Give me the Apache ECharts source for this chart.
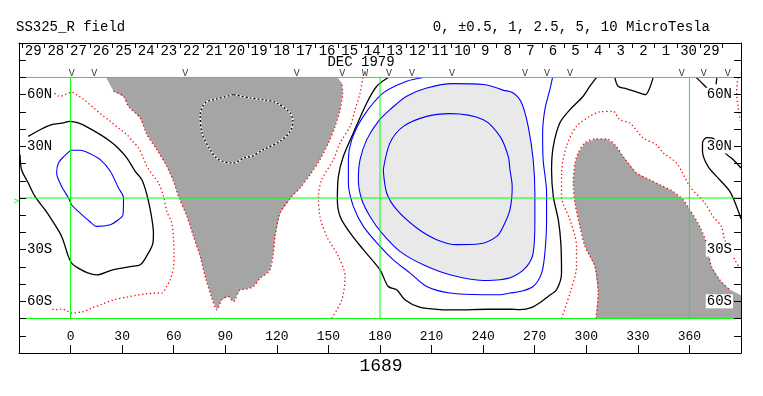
<!DOCTYPE html>
<html><head><meta charset="utf-8">
<script src="https://cdn.jsdelivr.net/npm/echarts@6/dist/echarts.min.js"></script>
<style>html,body{margin:0;padding:0;background:#fff}#c{width:763px;height:396px}</style>
</head><body><div id="c"></div>
<script>
// ---- tick labels / annotations ----
const dayLabels = ['29','28','27','26','25','24','23','22','21','20','19','18','17','16','15','14','13','12','11','10','9','8','7','6','5','4','3','2','1','30','29'];
const dayTickLons = [-28.3,-15.1,-2.0,11.2,24.3,37.4,50.6,63.7,76.9,90.0,103.2,116.3,129.5,142.6,155.8,168.9,182.0,195.2,208.3,221.5,234.6,247.8,260.9,274.1,287.2,300.3,313.5,326.6,339.8,352.9,366.1,379.2];
const lonTicks = [0,30,60,90,120,150,180,210,240,270,300,330,360];
const latLabels = {60:'60N',30:'30N','-30':'30S','-60':'60S'};
const passLons = [0.7,13.8,66.7,131.5,158,171.3,185.2,198.6,221.9,264.3,277.1,290.5,355.6,368.4,382.3];
const passMarks = ['V','V','V','V','V','W','V','V','V','V','V','V','V','V','V'];
const passLat = 72.6;
const gridLats = [70,0,-70];
const gridLons = [0,180,360];
const mapLatRange = [-70,70];
const lonRange = [-30,390];

// ---- contour lines (lon, lat) ----
const blueLeft = [[0,27.7],[-4,24],[-7.1,20.3],[-8.1,14.5],[-5.2,6.7],[-1.2,0],[0.6,-3.9],[4.5,-7.8],[8,-11],[11,-13.5],[15.3,-16.5],[23.1,-15.5],[28,-12.5],[30.5,-9.7],[30.8,0],[27.9,5.8],[23.1,15.5],[17.3,22.3],[10.5,26.2],[5.6,27.7],[0,27.7]];
const blackLeft = [[-24.6,35.8],[-18,39.5],[-11,42.6],[-5,43.5],[-0.3,44.5],[4.5,43.6],[10,41],[17.3,36.8],[23,33],[27,29.6],[32.8,23.2],[37.6,15.5],[41.5,10.6],[44.4,1.9],[46.7,-8.7],[48.2,-20.3],[47.9,-26.2],[44.4,-33.5],[40.5,-38.8],[34.7,-39.8],[28,-41],[23.1,-42.1],[15.3,-44.6],[10,-43.5],[4.5,-40.7],[0.6,-37.8],[-1.3,-33.9],[-5.2,-22.3],[-11,-12.6],[-14.9,-6.8],[-20.7,0.9],[-24.6,8.7],[-28.5,16.4],[-29.4,25.2]];
const redLeft = [[-16,62],[-10,61],[-6.2,59],[-3.3,60],[0.6,61.4],[3.5,60],[8,57],[13.4,52.3],[18,48.5],[23.1,44.5],[28,40.5],[32.8,36.8],[36,33],[39.5,29.1],[42,24],[44.4,18.4],[48,13],[51.2,8.7],[54.1,0.9],[56,-7.8],[58.9,-14.5],[59.9,-24.2],[60.2,-32],[59.9,-39.8],[58,-47.5],[56,-51],[53.1,-55.2],[49,-55.3],[44.4,-55.6],[38,-56.5],[32.8,-57.5],[25,-59.1],[17.3,-62],[12,-64],[7.6,-65.9],[0.6,-66.8],[-1.3,-65.9],[-5.2,-64.5],[-9.1,-64.9],[-12,-64]];
const greyLeft = [[20.7,70],[25,62],[30.8,59],[33.7,53.2],[40.5,46.5],[44.4,36.8],[50.2,28.1],[56,18.4],[59.9,9.6],[62.8,0.9],[67.7,-10.7],[71.5,-22.3],[75.4,-33.9],[78.3,-45.6],[82.2,-58.1],[85.1,-64.9],[88,-59.1],[91.8,-57.2],[94.7,-60.1],[98.6,-53.3],[102.5,-52.9],[106.4,-51.4],[110.3,-46.5],[113.2,-44.6],[116.1,-41.7],[118,-32],[119,-22.3],[121.9,-8.7],[128.7,0.9],[133.5,5.8],[139.3,13.5],[145.1,22.3],[150,32],[153.9,41.6],[156.8,51.3],[158.3,61],[157.8,66.8],[155.2,70]];
const dottedLoop = [[94.7,60],[85.1,57.5],[78.3,55.2],[75.4,48.4],[76.4,37.8],[81.2,28.1],[86,22.3],[94.7,20.3],[100.6,23.2],[106,24.5],[112.2,28.1],[121.9,32.9],[127.7,38.7],[129.3,44.5],[127.7,49.4],[120,55.2],[112.2,57.1],[104.5,58.1],[94.7,60]];
const redMid = [[170,70],[168.4,61],[165.5,51.3],[162.6,41.6],[156.8,32],[152.9,22.3],[146.1,10.6],[144.2,0.9],[145.1,-10.7],[149,-22.3],[155.8,-33.9],[159.7,-45.6],[157.8,-59.1],[151.9,-70]];
const blackMid = [[184.8,70],[178.1,64.9],[172.3,55.2],[164.5,37.8],[158.7,24.2],[155.8,12.6],[155.2,-1],[156.8,-10.7],[162.6,-20.3],[170.3,-30],[180,-41.7],[184.8,-51.4],[189.7,-53.3],[194.5,-59.1],[203,-63.4],[214.9,-64.8],[224.5,-65],[242.8,-64.6],[255.6,-64.6],[261.4,-64.8],[268.4,-63.5],[274.2,-60],[278,-57],[282.7,-53.3],[285.6,-43.6],[285.2,-26.2],[283.7,-12.6],[280.8,0.9],[279.8,16.4],[280.8,30],[284.6,43.6],[290.5,51.3],[298.2,59.1],[302.1,64.9],[306,70]];
const blueOuter = [[205.2,70],[195.5,67.8],[181.9,61],[170.3,47.4],[163.6,33.9],[161.6,22.3],[161.6,8.7],[164.5,-4.9],[170.3,-16.5],[180,-28.1],[187.7,-35.9],[197.5,-43.6],[207.2,-51.4],[220.7,-55.2],[240.1,-56.2],[249.8,-56.2],[255.6,-55.2],[261.4,-54.3],[269.1,-51.4],[274,-43.6],[275.9,-32],[276.9,-12.6],[276.9,2.9],[274.9,22.3],[274.6,37.8],[275.9,51.3],[278.8,62.9],[280.4,70]];
const blueMid = [[252,62.5],[240.1,65.9],[222.6,66.4],[207.2,63.9],[195.5,59.1],[185.8,51.3],[179,44.5],[172.3,33.9],[168.4,22.3],[167.4,10.6],[169.4,-1],[174.2,-10.7],[181,-20.3],[191.6,-31],[205.2,-38.8],[220.7,-44.6],[240.1,-47.9],[249.8,-47.5],[257.5,-45.6],[265.3,-39.8],[269.1,-32],[270.1,-12.6],[270.1,2.9],[269.1,22.3],[266.2,41.6],[262.4,55.2],[257.5,61],[252,62.5]];
const blueInner = [[181.9,16.4],[185.8,32],[193.6,41.6],[207.2,47.4],[220.7,49],[240.1,45.5],[249.8,35.8],[254.6,24.2],[255.6,16.4],[256.9,6.7],[255.6,-6.8],[251.7,-16.5],[247.9,-22.3],[238.1,-26.6],[224.6,-27.1],[213,-24.2],[201.4,-17.4],[189.7,-6.8],[183.9,2.9],[181.9,16.4]];
const redRight = [[285.6,-70],[290.5,-55.2],[294.3,-39.8],[294.3,-28],[290.5,-12.6],[285.6,0.9],[285.6,14.5],[288.5,30],[294.3,41.6],[302.1,47.4],[307.9,50],[315.6,50.3],[319.5,45.5],[325.3,43.6],[333.1,34.9],[340.8,31],[344.7,26.2],[352.5,20.3],[360.2,6.8],[368.9,-2.9],[373.7,-10.7],[378.6,-16.5],[380.5,-24.2],[386.4,-35.9],[389.3,-40.7]];
const greyRight = [[305.6,-70],[306.9,-55.2],[305,-39.8],[299.2,-28.1],[296.3,-16.5],[293.4,-2.9],[292.4,8.7],[293.4,20.3],[295.3,26.2],[299.2,32],[305,34.3],[311.8,34.3],[316.6,31],[321.4,24.2],[329.2,14.5],[336.9,10.6],[342.8,7.7],[350.5,3.8],[356.3,-1],[360.2,-6.8],[366,-16.5],[369.9,-26.2],[372.8,-39.8],[377.6,-47.5],[383.5,-53.3],[390,-56.5],[390,-70]];
const blackTopBump = [[316.6,70],[318.5,64.9],[323.4,63.4],[329.2,61.6],[334.4,60],[336.9,63.9],[338.9,70]];
const blackTopRight = [[364,70],[366,68],[368,66],[371,63]];
const blackTopTiny = [[376,70],[375.5,66]];
const blackRight = [[390,17.4],[385.4,22.3],[381.5,25.5],[378,30],[374,34.5],[370,35],[367.6,32],[367.6,27.1],[370.8,18.4],[377.6,10.6],[383.5,3.8],[387.4,-4.9],[390,-12]];
const redFarRight = [[388.3,70],[387.4,61],[388.3,53],[389.5,45]];

// ---- build chart ----
const MONO = 'Liberation Mono';
const dayLabelLons = dayLabels.map((_, i) => (dayTickLons[i] + dayTickLons[i + 1]) / 2);

const chart = echarts.init(document.getElementById('c'), null, {renderer: 'canvas'});

function poly(points, fill, z) {
  return {type: 'custom', coordinateSystem: 'cartesian2d', silent: true, z: z, data: [[0, 0]],
    renderItem: (params, api) => ({type: 'polygon', shape: {points: points.map(p => api.coord(p))}, style: {fill: fill}})};
}
function line(points, style, z, smooth) {
  return {type: 'line', data: points, showSymbol: false, symbol: 'none', silent: true, z: z || 3,
    smooth: smooth === undefined ? 0.3 : smooth, lineStyle: style, animation: false};
}
const BLACK = {color: '#000', width: 1.3};
const BLUE = {color: '#0000ff', width: 1.1};
const RED = {color: '#ff0000', width: 1.3, type: [1.3, 2.6]};

const greenLines = [];
gridLats.forEach(la => greenLines.push(line([[lonRange[0], la], [lonRange[1], la]], {color: '#00ff00', width: 1}, 4, false)));
gridLons.forEach(lo => greenLines.push(line([[lo, mapLatRange[1]], [lo, mapLatRange[0]]], {color: '#00ff00', width: 1}, 4, false)));

const series = [
  poly(greyLeft, '#a5a5a5', 1),
  poly(greyRight, '#a5a5a5', 1),
  poly(blueMid, '#e9e9e9', 1),
  line(greyLeft.slice(1, -1), RED),
  line(greyRight.slice(0, -2), RED),
  line(dottedLoop, {color: '#fff', width: 1.5}),
  line(dottedLoop, {color: '#000', width: 1.3, type: [2, 2]}),
  line(blueLeft, BLUE),
  line(blackLeft, BLACK),
  line(redLeft, RED),
  line(redMid, RED),
  line(blackMid, BLACK),
  line(blueOuter, BLUE),
  line(blueMid, BLUE),
  line(blueInner, BLUE),
  line(redRight, RED),
  line(blackTopBump, BLACK),
  line(blackTopRight, BLACK),
  line(blackTopTiny, BLACK),
  line(blackRight, BLACK),
  line(redFarRight, RED),
  ...greenLines,
  {type: 'scatter', data: passLons.map(l => [l, passLat]), symbolSize: 0, silent: true, z: 5,
    label: {show: true, position: 'inside', formatter: p => passMarks[p.dataIndex], fontFamily: MONO, fontSize: 10, color: '#000'}}
];

const yAxisBase = (pos) => ({
  type: 'value', position: pos, min: -90, max: 90, interval: 10, z: 10,
  axisLine: {show: true, onZero: false, lineStyle: {color: '#000', width: 1}},
  axisTick: {show: true, inside: true, length: 7, lineStyle: {color: '#000'}},
  splitLine: {show: false},
  axisLabel: {show: true, inside: true, margin: pos === 'left' ? 7 : 8,
    formatter: v => latLabels[String(v)] || '', fontFamily: MONO, fontSize: 14, color: '#000',
    backgroundColor: '#fff', padding: [0, 1, 0, 1]}
});

chart.setOption({
  animation: false,
  backgroundColor: '#fff',
  grid: {left: 19, right: 22, top: 43, bottom: 43, containLabel: false},
  xAxis: [
    {type: 'value', position: 'bottom', min: lonRange[0], max: lonRange[1], interval: 30,
      axisLine: {show: true, onZero: false, lineStyle: {color: '#000', width: 1}},
      axisTick: {show: true, inside: true, length: 8, lineStyle: {color: '#000'}},
      splitLine: {show: false},
      axisLabel: {show: true, inside: true, margin: 10, showMinLabel: true, showMaxLabel: true,
        formatter: v => lonTicks.indexOf(v) >= 0 ? String(v) : '', fontFamily: MONO, fontSize: 13, color: '#000'}},
    {type: 'value', position: 'top', min: lonRange[0], max: lonRange[1],
      axisLine: {show: true, onZero: false, lineStyle: {color: '#000', width: 1}},
      axisTick: {show: true, inside: true, length: 5, customValues: dayTickLons, lineStyle: {color: '#000'}},
      splitLine: {show: false},
      axisLabel: {show: true, inside: true, margin: 1, customValues: dayLabelLons,
        formatter: v => { const i = dayLabelLons.findIndex(l => Math.abs(l - v) < 1e-6); return i >= 0 ? dayLabels[i] : ''; },
        fontFamily: MONO, fontSize: 14, color: '#000'}}
  ],
  yAxis: [yAxisBase('left'), yAxisBase('right')],
  graphic: [
    {type: 'text', left: 16, top: 20, style: {text: 'SS325_R field', font: '14px "Liberation Mono"', fill: '#000'}},
    {type: 'text', right: 53, top: 20, style: {text: '0, \u00b10.5, 1, 2.5, 5, 10 MicroTesla', font: '14px "Liberation Mono"', fill: '#000'}},
    {type: 'text', x: 361, y: 62.5, style: {text: 'DEC 1979', font: '14px "Liberation Mono"', fill: '#000', align: 'center', verticalAlign: 'middle'}},
    {type: 'text', x: 381, y: 366, style: {text: '1689', font: '18px "Liberation Mono"', fill: '#000', align: 'center', verticalAlign: 'middle'}},
    {type: 'text', x: 16.5, y: 202, style: {text: '>', font: '9px "Liberation Mono"', fill: '#00ff00', align: 'center', verticalAlign: 'middle'}}
  ],
  series: series
});
</script>
</body></html>
